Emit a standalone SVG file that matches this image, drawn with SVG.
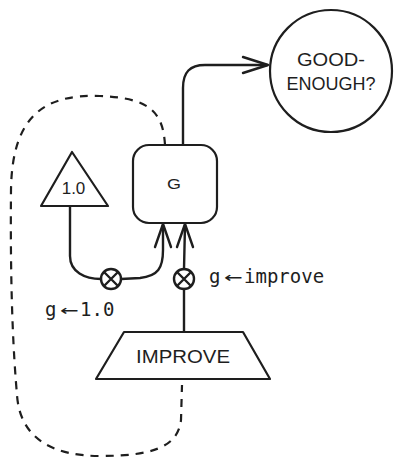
<svg xmlns="http://www.w3.org/2000/svg" width="402" height="466" viewBox="0 0 402 466">
<style>
.s{fill:none;stroke:#1e1e1e;stroke-width:2.4;stroke-linecap:round;stroke-linejoin:round}
.n{fill:#ffffff;stroke:#1e1e1e;stroke-width:2.2;stroke-linejoin:round}
.d{fill:none;stroke:#1e1e1e;stroke-width:2.2;stroke-dasharray:8 7}
.h{font-family:"Liberation Sans","DejaVu Sans",sans-serif;fill:#1e1e1e;text-anchor:middle}
.m{font-family:"DejaVu Sans Mono","Liberation Mono",monospace;fill:#1e1e1e;font-size:19px}
</style>
<rect width="402" height="466" fill="#ffffff"/>
<g id="connectors">
<path class="d" d="M165,145 C163,112 150,98 100,96 C45,94 12,115 11,190 C10,300 14,360 17,395 C20,440 55,456 100,456 C150,456 178,448 181,420 L182,385"/>
<path class="s" d="M183,145 L183,88 C183,72 190,65 205,65 L267,65"/>
<path class="s" d="M243,57 L268,65 L243,73"/>
<path class="s" d="M70,206 L70,256 C70,272 85,279 101,279"/>
<path class="s" d="M121,279 L140,278 C158,276 163,268 163,250 L163,225"/>
<path class="s" d="M155,247 L163,224 L171,247"/>
<path class="s" d="M184,332 L184,289"/>
<path class="s" d="M184,269 L185,225"/>
<path class="s" d="M177,247 L185,224 L193,247"/>
<g id="xor1">
<circle class="s" cx="111" cy="279" r="10"/>
<path class="s" d="M104,272 L118,286 M118,272 L104,286"/>
</g>
<g id="xor2">
<circle class="s" cx="184" cy="279" r="10"/>
<path class="s" d="M177,272 L191,286 M191,272 L177,286"/>
</g>
<text class="m" y="283"><tspan x="209">g</tspan><tspan x="244">improve</tspan></text>
<text class="m" transform="translate(224,283) scale(1.6,1)">←</text>
<text class="m" y="316"><tspan x="45">g</tspan><tspan x="80">1.0</tspan></text>
<text class="m" transform="translate(60,316) scale(1.6,1)">←</text>
</g>
<g id="good-enough">
<circle class="n" cx="331" cy="71" r="61"/>
<text class="h" x="331" y="66" font-size="18" textLength="68" lengthAdjust="spacingAndGlyphs">GOOD-</text>
<text class="h" x="331" y="90" font-size="18">ENOUGH?</text>
</g>
<g id="g-node">
<rect class="n" x="133" y="145" width="84" height="78" rx="16"/>
<text class="h" x="174" y="189" font-size="14" textLength="14" lengthAdjust="spacingAndGlyphs">G</text>
</g>
<g id="one">
<path class="n" d="M72,152 L108,206 L41,206 Z"/>
<text class="h" x="73.5" y="194" font-size="17">1.0</text>
</g>
<g id="improve">
<path class="n" d="M124,332 L243,332 L270,379 L96,379 Z"/>
<text class="h" x="183" y="363" font-size="18" textLength="94" lengthAdjust="spacingAndGlyphs">IMPROVE</text>
</g>
</svg>
